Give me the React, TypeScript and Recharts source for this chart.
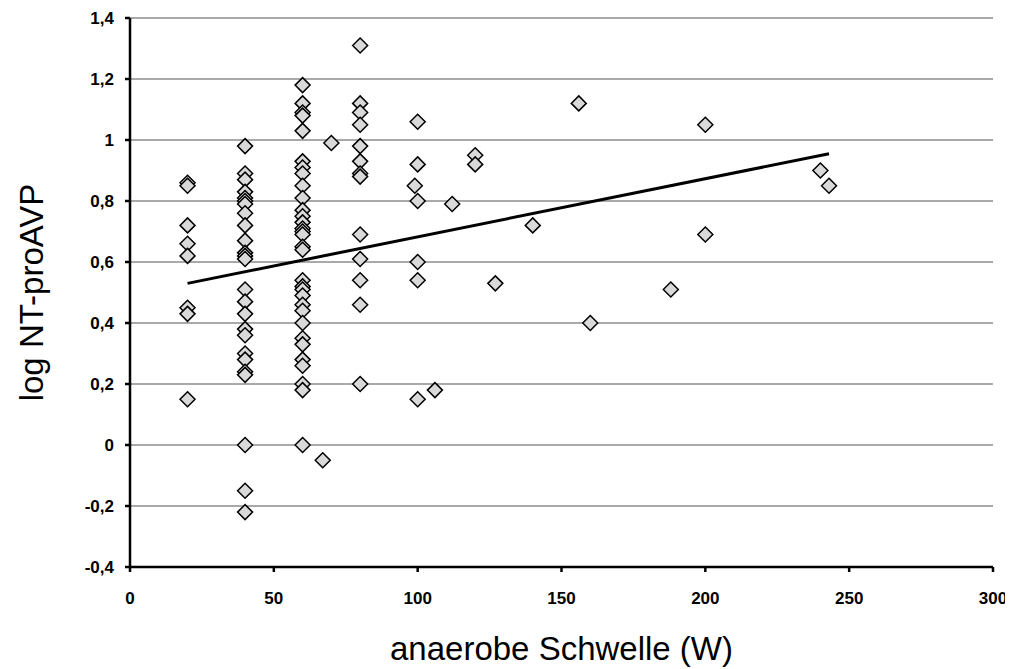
import {
  ScatterChart,
  Scatter,
  XAxis,
  YAxis,
  CartesianGrid,
  ReferenceLine,
  Label,
} from 'recharts'

// log NT-proAVP values read per anaerobic threshold column (W)
const col20 = [0.86, 0.85, 0.72, 0.66, 0.62, 0.45, 0.43, 0.15]
const col40 = [
  0.98, 0.89, 0.87, 0.83, 0.81, 0.8, 0.79, 0.76, 0.72, 0.67, 0.63, 0.62, 0.61,
  0.51, 0.47, 0.43, 0.38, 0.36, 0.3, 0.28, 0.24, 0.23, 0, -0.15, -0.22,
]
const col60 = [
  1.18, 1.12, 1.09, 1.08, 1.03, 0.93, 0.91, 0.89, 0.85, 0.81, 0.77, 0.75, 0.73,
  0.71, 0.7, 0.69, 0.65, 0.64, 0.54, 0.52, 0.51, 0.49, 0.46, 0.44, 0.4, 0.35,
  0.33, 0.28, 0.26, 0.2, 0.18, 0,
]
const col80 = [1.31, 1.12, 1.09, 1.05, 0.98, 0.93, 0.89, 0.88, 0.69, 0.61, 0.54, 0.46, 0.2]
const col100 = [1.06, 0.92, 0.8, 0.6, 0.54, 0.15]
const otherW = [67, 70, 99, 106, 112, 120, 120, 127, 140, 156, 160, 188, 200, 200, 240, 243]
const otherV = [-0.05, 0.99, 0.85, 0.18, 0.79, 0.95, 0.92, 0.53, 0.72, 1.12, 0.4, 0.51, 1.05, 0.69, 0.9, 0.85]

const trendW = [20, 243]
const trendV = [0.53, 0.955]

const xTicks = [0, 50, 100, 150, 200, 250, 300]
const yTicks = [-0.4, -0.2, 0, 0.2, 0.4, 0.6, 0.8, 1, 1.2, 1.4]

const columns: [number, number[]][] = [
  [20, col20],
  [40, col40],
  [60, col60],
  [80, col80],
  [100, col100],
]

const points = [
  ...columns.flatMap(([w, vals]) => vals.map((v) => ({ w, v }))),
  ...otherW.map((w, i) => ({ w, v: otherV[i] })),
]

const fmt = (v: number) => String(Math.round(v * 10) / 10).replace('.', ',')

const Diamond = (props: any) => {
  const { cx, cy } = props
  const r = 7.5
  return (
    <polygon
      points={`${cx},${cy - r} ${cx + r},${cy} ${cx},${cy + r} ${cx - r},${cy}`}
      fill="#d9d9d9"
      stroke="#000"
      strokeWidth={1.5}
    />
  )
}

const font = 'Arial, "Liberation Sans", sans-serif'

const XTick = (props: any) => {
  const { x, y, payload } = props
  return (
    <text x={x} y={y + 30} textAnchor="middle" fontSize={17} fontWeight="bold" fontFamily={font} fill="#000">
      {payload.value}
    </text>
  )
}

const YTick = (props: any) => {
  const { x, y, payload } = props
  return (
    <text x={x - 9} y={y + 6} textAnchor="end" fontSize={17} fontWeight="bold" fontFamily={font} fill="#000">
      {fmt(payload.value)}
    </text>
  )
}

export default function App() {
  return (
    <div style={{ fontFamily: font }}>
      <ScatterChart
        width={1005}
        height={661}
        margin={{ top: 10, right: 20, bottom: 22, left: 62 }}
      >
        <CartesianGrid vertical={false} stroke="#8c8c8c" strokeWidth={1.3} />
        <XAxis
          type="number"
          dataKey="w"
          domain={[0, 300]}
          ticks={xTicks}
          height={80}
          stroke="#000"
          strokeWidth={2.5}
          tickSize={5}
          tick={<XTick />}
        >
          <Label
            value="anaerobe Schwelle (W)"
            position="insideBottom"
            offset={-13}
            style={{ fill: '#000', fontSize: 33, fontFamily: font }}
          />
        </XAxis>
        <YAxis
          type="number"
          dataKey="v"
          domain={[-0.4, 1.4]}
          ticks={yTicks}
          width={60}
          stroke="#000"
          strokeWidth={2.5}
          tickSize={5}
          tick={<YTick />}
        >
          <Label
            value="log NT-proAVP"
            angle={-90}
            position="insideLeft"
            offset={-39}
            textAnchor="middle"
            style={{ fill: '#000', fontSize: 33, fontFamily: font, textAnchor: 'middle' }}
          />
        </YAxis>
        <ReferenceLine
          segment={[
            { x: trendW[0], y: trendV[0] },
            { x: trendW[1], y: trendV[1] },
          ]}
          stroke="#000"
          strokeWidth={3}
          ifOverflow="visible"
        />
        <Scatter data={points} shape={Diamond} isAnimationActive={false} />
      </ScatterChart>
    </div>
  )
}
